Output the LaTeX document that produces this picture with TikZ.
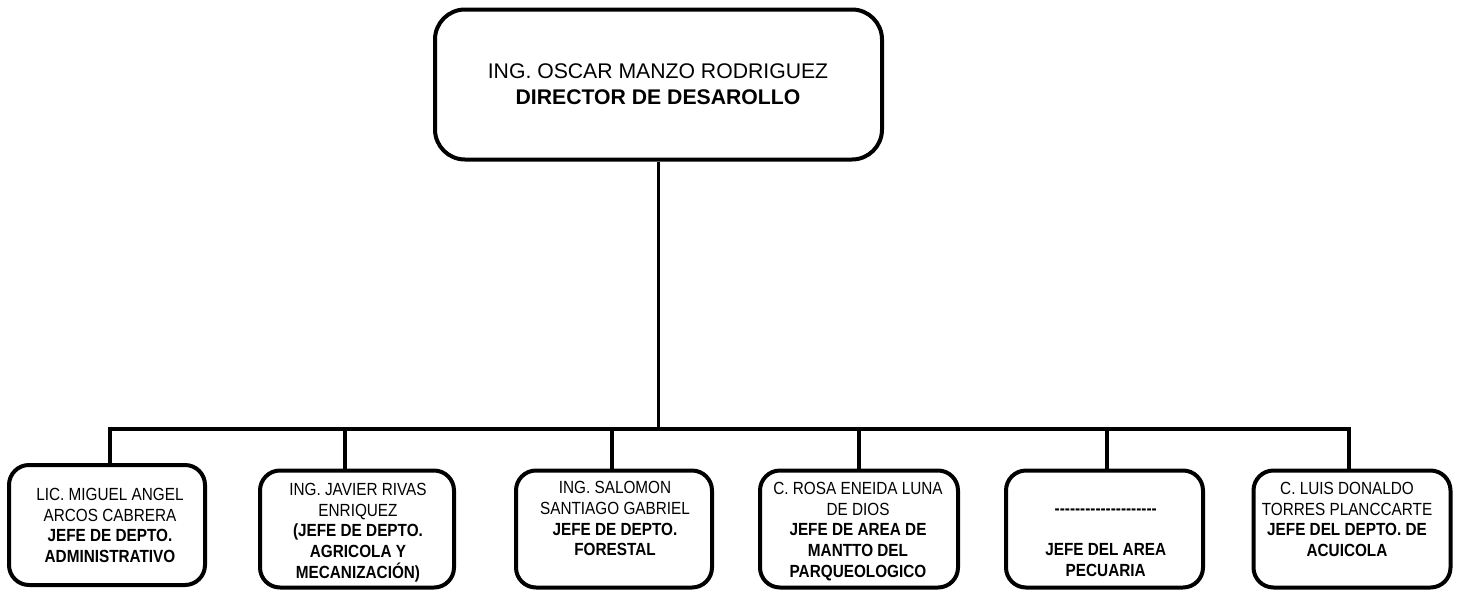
\documentclass[tikz,border=0pt]{standalone}
\usepackage{fontspec}
\setmainfont{Liberation Sans}
\newfontfamily\subfont[FakeStretch=0.87]{Liberation Sans}
\newcommand{\capsm}{\rule{0pt}{12.6pt}}
\newcommand{\capbig}{\rule{0pt}{15.2pt}}
\begin{document}
\begin{tikzpicture}[x=1pt,y=-1pt,
  topbox/.style={draw=black, line width=4pt, rounded corners=30pt, minimum width=447pt, minimum height=150pt, inner sep=0pt},
  subbox/.style={draw=black, line width=4pt, rounded corners=20pt, minimum width=196pt, minimum height=117pt, inner sep=0pt},
  toptext/.style={anchor=north, align=center, inner sep=0pt, font=\fontsize{21.2}{26}\selectfont},
  subtext/.style={anchor=north, align=center, inner sep=0pt, font=\subfont\fontsize{17.6}{20.8}\selectfont},
  conn/.style={draw=black, line width=3.5pt}
]
\useasboundingbox[fill=white] (0,0) rectangle (1457,590);

% top box
\node[topbox] (b0) at (658.5,84.5) {};
\node[toptext] (t0) at (658,63.1) {\capbig ING. OSCAR MANZO RODRIGUEZ\\ \textbf{DIRECTOR DE DESAROLLO}};

% bottom boxes
\node[subbox, minimum height=120pt] (b1) at (107,525) {};
\node[subbox, minimum width=194pt] (b2) at (357,529) {};
\node[subbox] (b3) at (614,529) {};
\node[subbox, minimum width=198pt] (b4) at (859,529) {};
\node[subbox, minimum width=197pt] (b5) at (1104.5,529) {};
\node[subbox, minimum width=197pt] (b6) at (1352,529) {};

\node[subtext] (t1) at (110,487.4) {\capsm LIC. MIGUEL ANGEL\\ ARCOS CABRERA\\ \textbf{JEFE DE DEPTO.}\\ \textbf{ADMINISTRATIVO}};
\node[subtext] (t2) at (358,482.4) {\capsm ING. JAVIER RIVAS\\ ENRIQUEZ\\ \textbf{(JEFE DE DEPTO.}\\ \textbf{AGRICOLA Y}\\ \textbf{MECANIZACIÓN)}};
\node[subtext] (t3) at (615,480.7) {\capsm ING. SALOMON\\ SANTIAGO GABRIEL\\ \textbf{JEFE DE DEPTO.}\\ \textbf{FORESTAL}};
\node[subtext] (t4) at (858,481.4) {\capsm C. ROSA ENEIDA LUNA\\ DE DIOS\\ \textbf{JEFE DE AREA DE}\\ \textbf{MANTTO DEL}\\ \textbf{PARQUEOLOGICO}};
\node[subtext] (t5) at (1105.7,480.4) {\capsm\\ \textbf{-{}-{}-{}-{}-{}-{}-{}-{}-{}-{}-{}-{}-{}-{}-{}-{}-{}-{}-{}-{}}\\ \capsm\\ \textbf{JEFE DEL AREA}\\ \textbf{PECUARIA}};
\node[subtext] (t6) at (1347,481.4) {\capsm C. LUIS DONALDO\\ TORRES PLANCCARTE\\ \textbf{JEFE DEL DEPTO. DE}\\ \textbf{ACUICOLA}};

% bus coordinates
\coordinate (d1) at (110,429);
\coordinate (d2) at (345,429);
\coordinate (d3) at (612,429);
\coordinate (d4) at (859,429);
\coordinate (d5) at (1107,429);
\coordinate (d6) at (1349,429);

% connectors
\draw[conn] (b0.south) -- (b0.south |- d1);
\draw[conn] (d1 |- b1.north) -- (d1) -- (d6) -- (d6 |- b6.north);
\draw[conn] (d2) -- (d2 |- b2.north);
\draw[conn] (d3) -- (d3 |- b3.north);
\draw[conn] (d4) -- (d4 |- b4.north);
\draw[conn] (d5) -- (d5 |- b5.north);
\end{tikzpicture}
\end{document}
